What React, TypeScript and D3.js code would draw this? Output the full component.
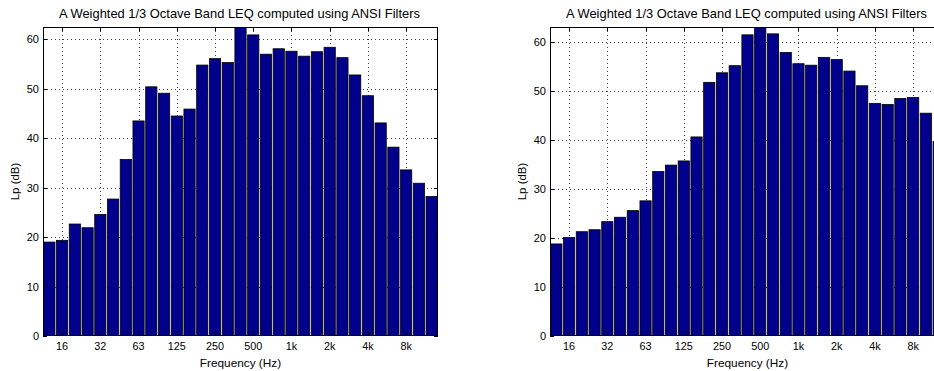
import React, { useRef, useEffect } from 'react';
import * as d3 from 'd3';

// 1/3 octave band centres (Hz)
const bands = [
    '12.5', '16', '20', '25', '31.5', '40', '50', '63', '80', '100', '125', '160', '200', '250', '315',
    '400', '500', '630', '800', '1k', '1.25k', '1.6k', '2k', '2.5k', '3.15k', '4k', '5k', '6.3k', '8k',
    '10k', '12.5k',
];
const tickBands = ['16', '31.5', '63', '125', '250', '500', '1k', '2k', '4k', '8k'];
const tickLabels = ['16', '32', '63', '125', '250', '500', '1k', '2k', '4k', '8k'];
const yTicks = [0, 10, 20, 30, 40, 50, 60];

const leftLevels = [
    19.0, 19.35, 22.65, 21.9, 24.6, 27.7, 35.7, 43.5, 50.4, 49.1, 44.5, 45.9, 54.8, 56.1, 55.3, 63.5,
    60.9, 57.0, 58.1, 57.6, 56.6, 57.5, 58.4, 56.3, 52.8, 48.6, 43.1, 38.2, 33.6, 30.9, 28.2,
];
const rightLevels = [
    18.8, 20.1, 21.3, 21.7, 23.35, 24.25, 25.6, 27.6, 33.6, 34.9, 35.75, 40.65, 51.8, 53.75, 55.2, 61.5,
    63.5, 61.7, 57.9, 55.6, 55.3, 56.9, 56.45, 54.1, 51.1, 47.5, 47.3, 48.5, 48.7, 45.5, 39.7,
];

const title = 'A Weighted 1/3 Octave Band LEQ computed using ANSI Filters';
const font = 'Arial, "Liberation Sans", Helvetica, sans-serif';

const App: React.FC = () => {
    const svgRef = useRef<SVGSVGElement | null>(null);

    useEffect(() => {
        const svg = d3.select(svgRef.current);
        svg.selectAll('*').remove();

        const panels = [
            { left: 43, values: leftLevels, yMax: 62.5, id: 'a' },
            { left: 550, values: rightLevels, yMax: 63.1, id: 'b' },
        ];
        const top = 27;
        const bottom = 336;
        const width = 395;

        panels.forEach(p => {
            const x = d3
                .scaleBand()
                .domain(bands)
                .range([p.left, p.left + width])
                .paddingInner(0.12)
                .paddingOuter(0.06);
            const y = d3.scaleLinear().domain([0, p.yMax]).range([bottom, top]);
            const g = svg.append('g');

            g.append('clipPath')
                .attr('id', 'clip-' + p.id)
                .append('rect')
                .attr('x', p.left)
                .attr('y', top)
                .attr('width', width)
                .attr('height', bottom - top);

            g.append('rect')
                .attr('x', p.left)
                .attr('y', top)
                .attr('width', width)
                .attr('height', bottom - top)
                .attr('fill', '#fff');

            // dotted grid
            const grid = g.append('g').attr('stroke', '#444').attr('stroke-dasharray', '1 3');
            tickBands.forEach(b => {
                const cx = Math.round((x(b) as number) + x.bandwidth() / 2) + 0.5;
                grid.append('line').attr('x1', cx).attr('x2', cx).attr('y1', top).attr('y2', bottom);
            });
            yTicks.slice(1).forEach(t => {
                const cy = Math.round(y(t)) + 0.5;
                grid.append('line').attr('x1', p.left).attr('x2', p.left + width).attr('y1', cy).attr('y2', cy);
            });

            g.append('g')
                .attr('clip-path', `url(#clip-${p.id})`)
                .selectAll('rect')
                .data(p.values)
                .join('rect')
                .attr('x', (d, i) => x(bands[i]) as number)
                .attr('y', d => y(d))
                .attr('width', x.bandwidth())
                .attr('height', d => y(0) - y(d))
                .attr('fill', '#00008c')
                .attr('stroke', '#000')
                .attr('stroke-width', 0.8);

            // tick marks on all four sides
            const ticks = g.append('g').attr('stroke', '#000');
            tickBands.forEach(b => {
                const cx = Math.round((x(b) as number) + x.bandwidth() / 2) + 0.5;
                ticks.append('line').attr('x1', cx).attr('x2', cx).attr('y1', bottom).attr('y2', bottom - 4);
                ticks.append('line').attr('x1', cx).attr('x2', cx).attr('y1', top).attr('y2', top + 4);
            });
            yTicks.forEach(t => {
                const cy = Math.round(y(t)) + 0.5;
                ticks.append('line').attr('x1', p.left).attr('x2', p.left + 4).attr('y1', cy).attr('y2', cy);
                ticks.append('line').attr('x1', p.left + width).attr('x2', p.left + width - 4).attr('y1', cy).attr('y2', cy);
            });

            g.append('rect')
                .attr('x', p.left + 0.5)
                .attr('y', top + 0.5)
                .attr('width', width - 1)
                .attr('height', bottom - top - 1)
                .attr('fill', 'none')
                .attr('stroke', '#000');

            const text = g.append('g').attr('font-family', font).attr('fill', '#000');

            yTicks.forEach(t => {
                text.append('text')
                    .attr('x', p.left - 4)
                    .attr('y', y(t) + 4)
                    .attr('font-size', 11)
                    .attr('text-anchor', 'end')
                    .text(String(t));
            });
            tickBands.forEach((b, i) => {
                text.append('text')
                    .attr('x', (x(b) as number) + x.bandwidth() / 2)
                    .attr('y', 350)
                    .attr('font-size', 10.8)
                    .attr('text-anchor', 'middle')
                    .text(tickLabels[i]);
            });
            text.append('text')
                .attr('x', p.left + width / 2)
                .attr('y', 367)
                .attr('font-size', 11.8)
                .attr('text-anchor', 'middle')
                .text('Frequency (Hz)');
            text.append('text')
                .attr('transform', `translate(${p.left - 24},${(top + bottom) / 2}) rotate(-90)`)
                .attr('font-size', 11.5)
                .attr('text-anchor', 'middle')
                .text('Lp (dB)');
            text.append('text')
                .attr('x', p.left + width / 2 - 1)
                .attr('y', 18)
                .attr('font-size', 12.9)
                .attr('text-anchor', 'middle')
                .text(title);
        });
    }, []);

    return (
        <svg
            ref={svgRef}
            width="934"
            height="371"
            style={{ position: 'absolute', left: 0, top: 0, background: '#fff', overflow: 'hidden' }}
        />
    );
};

export default App;
